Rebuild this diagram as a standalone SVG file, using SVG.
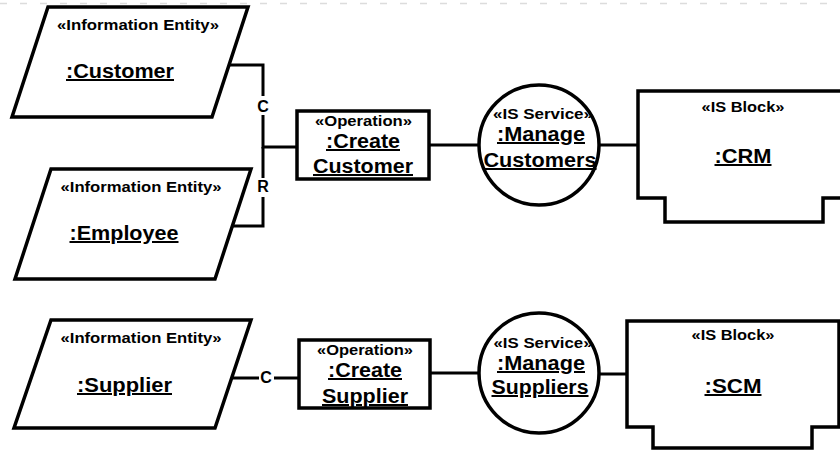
<svg xmlns="http://www.w3.org/2000/svg" width="840" height="452" viewBox="0 0 840 452">
<style>
.shape{fill:#fff;stroke:#000;stroke-width:3.5;stroke-linejoin:miter}
.conn{fill:none;stroke:#000;stroke-width:3}
text{font-family:"Liberation Sans",Arial,sans-serif;font-weight:bold;fill:#000;text-anchor:middle}
.st{font-size:15px}
.nm{font-size:20px;text-decoration:underline}
.lbl{font-size:16px}
.bg{fill:#fff}
</style>
<line x1="0" y1="3.5" x2="840" y2="3.5" stroke="#dcdcdc" stroke-width="1.5" stroke-dasharray="7 13"/>
<g id="connectors">
<polyline class="conn" points="229,65 263,65 263,147 298,147"/>
<polyline class="conn" points="232,226 263,226 263,147"/>
<line class="conn" x1="429" y1="145" x2="479" y2="145"/>
<line class="conn" x1="599" y1="145" x2="638" y2="145"/>
<line class="conn" x1="231" y1="378" x2="299" y2="378"/>
<line class="conn" x1="430" y1="373" x2="479" y2="373"/>
<line class="conn" x1="599" y1="374" x2="627" y2="374"/>
<rect class="bg" x="255" y="96" width="16" height="19"/>
<text class="lbl" x="263" y="112">C</text>
<rect class="bg" x="255" y="178" width="16" height="19"/>
<text class="lbl" x="263" y="192">R</text>
<rect class="bg" x="259" y="369" width="15" height="16"/>
<text class="lbl" x="266" y="383">C</text>
</g>
<g id="customer">
<polygon class="shape" points="48,7 248,7 212,117 12,117"/>
<text class="st" x="138" y="30" textLength="162" lengthAdjust="spacingAndGlyphs">«Information Entity»</text>
<text class="nm" x="120" y="78" textLength="108" lengthAdjust="spacingAndGlyphs">:Customer</text>
</g>
<g id="employee">
<polygon class="shape" points="51,169 251,169 215,279 15,279"/>
<text class="st" x="141" y="192" textLength="161" lengthAdjust="spacingAndGlyphs">«Information Entity»</text>
<text class="nm" x="124" y="240" textLength="109" lengthAdjust="spacingAndGlyphs">:Employee</text>
</g>
<g id="supplier">
<polygon class="shape" points="51,320 251,320 215,428 14,428"/>
<text class="st" x="141" y="343" textLength="161" lengthAdjust="spacingAndGlyphs">«Information Entity»</text>
<text class="nm" x="124.5" y="392" textLength="95" lengthAdjust="spacingAndGlyphs">:Supplier</text>
</g>
<g id="op-create-customer">
<rect class="shape" x="297" y="111" width="132" height="68"/>
<text class="st" x="363.5" y="126" textLength="97" lengthAdjust="spacingAndGlyphs">«Operation»</text>
<text class="nm" x="363" y="148" textLength="74" lengthAdjust="spacingAndGlyphs">:Create</text>
<text class="nm" x="363" y="173" textLength="100" lengthAdjust="spacingAndGlyphs">Customer</text>
</g>
<g id="op-create-supplier">
<rect class="shape" x="299" y="340" width="131" height="68"/>
<text class="st" x="365" y="355" textLength="96" lengthAdjust="spacingAndGlyphs">«Operation»</text>
<text class="nm" x="365" y="377" textLength="74" lengthAdjust="spacingAndGlyphs">:Create</text>
<text class="nm" x="365" y="403" textLength="86" lengthAdjust="spacingAndGlyphs">Supplier</text>
</g>
<g id="svc-manage-customers">
<circle class="shape" cx="539" cy="145" r="60"/>
<text class="st" x="543" y="119" textLength="100" lengthAdjust="spacingAndGlyphs">«IS Service»</text>
<text class="nm" x="541" y="141" textLength="88" lengthAdjust="spacingAndGlyphs">:Manage</text>
<text class="nm" x="540" y="167" textLength="113" lengthAdjust="spacingAndGlyphs">Customers</text>
</g>
<g id="svc-manage-suppliers">
<circle class="shape" cx="539" cy="373" r="60"/>
<text class="st" x="543" y="348" textLength="99" lengthAdjust="spacingAndGlyphs">«IS Service»</text>
<text class="nm" x="541" y="370" textLength="88" lengthAdjust="spacingAndGlyphs">:Manage</text>
<text class="nm" x="540" y="394" textLength="97" lengthAdjust="spacingAndGlyphs">Suppliers</text>
</g>
<g id="block-crm">
<path class="shape" d="M638,91 H849 V198 H823 V222 H665 V198 H638 Z"/>
<text class="st" x="743" y="112" textLength="83" lengthAdjust="spacingAndGlyphs">«IS Block»</text>
<text class="nm" x="743" y="163" textLength="57" lengthAdjust="spacingAndGlyphs">:CRM</text>
</g>
<g id="block-scm">
<path class="shape" d="M627,321 H839 V427 H812 V448 H653 V427 H627 Z"/>
<text class="st" x="733" y="340" textLength="83" lengthAdjust="spacingAndGlyphs">«IS Block»</text>
<text class="nm" x="733" y="393" textLength="57" lengthAdjust="spacingAndGlyphs">:SCM</text>
</g>
</svg>
